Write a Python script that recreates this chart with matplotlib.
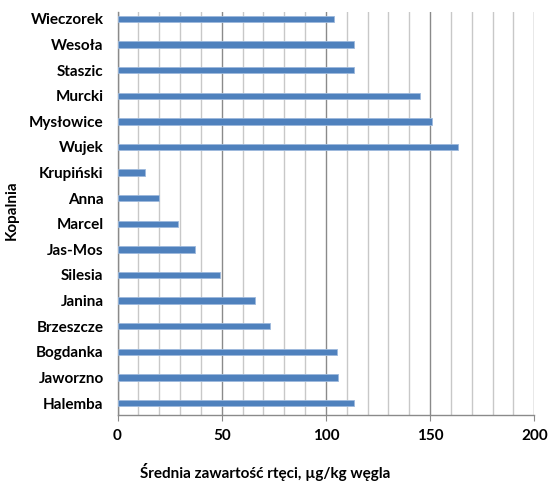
import matplotlib
matplotlib.use("Agg")
import matplotlib.pyplot as plt
from matplotlib.ticker import MultipleLocator

# Mines, listed bottom to top as drawn on the category axis
mines = ["Halemba", "Jaworzno", "Bogdanka", "Brzeszcze", "Janina", "Silesia",
         "Jas-Mos", "Marcel", "Anna", "Krupiński", "Wujek", "Mysłowice",
         "Murcki", "Staszic", "Wesoła", "Wieczorek"]
# Mean mercury content, µg/kg of coal
mercury = [113.4, 105.9, 105.2, 73.1, 66.2, 49.1,
           37.2, 29.0, 20.1, 13.0, 163.4, 150.9,
           145.1, 113.4, 113.4, 104.1]

x_ticks = [0, 50, 100, 150, 200]

plt.rcParams["font.family"] = ["Lato", "DejaVu Sans"]

fig = plt.figure(figsize=(5.48, 4.84), dpi=100)
ax = fig.add_axes([117.5 / 548, 68.7 / 484, 416.8 / 548, 403.3 / 484])

ypos = list(range(len(mines)))
ax.barh(ypos, mercury, height=0.25, color="#4F81BD",
        edgecolor="#9DB9DC", linewidth=0.6, zorder=3)

ax.set_xlim(0, 200)
ax.set_ylim(-0.48, len(mines) - 1 + 0.27)

ax.set_xticks(x_ticks)
ax.set_xticklabels([str(v) for v in x_ticks], fontsize=11, fontweight="bold")
ax.xaxis.set_minor_locator(MultipleLocator(10))
ax.grid(axis="x", which="minor", color="#C8C8C8", linewidth=1.0, zorder=0)
ax.grid(axis="x", which="major", color="#8A8A8A", linewidth=1.0, zorder=1)
ax.tick_params(axis="x", which="major", length=4, color="#8A8A8A", pad=6)
ax.tick_params(axis="x", which="minor", length=0)

ax.set_yticks(ypos)
ax.set_yticklabels(mines, fontsize=11, fontweight="bold")
ax.tick_params(axis="y", length=0, pad=10)

for side in ("top", "right"):
    ax.spines[side].set_visible(False)
for side in ("left", "bottom"):
    ax.spines[side].set_color("#8A8A8A")
    ax.spines[side].set_linewidth(1.0)

fig.text(265 / 548, 1 - 472 / 484, "Średnia zawartość rtęci, µg/kg węgla",
         ha="center", va="center", fontsize=11, fontweight="bold")
fig.text(12 / 548, 1 - 210 / 484, "Kopalnia", rotation=90,
         ha="center", va="center", fontsize=11, fontweight="bold")

fig.savefig("out.png", dpi=100)
